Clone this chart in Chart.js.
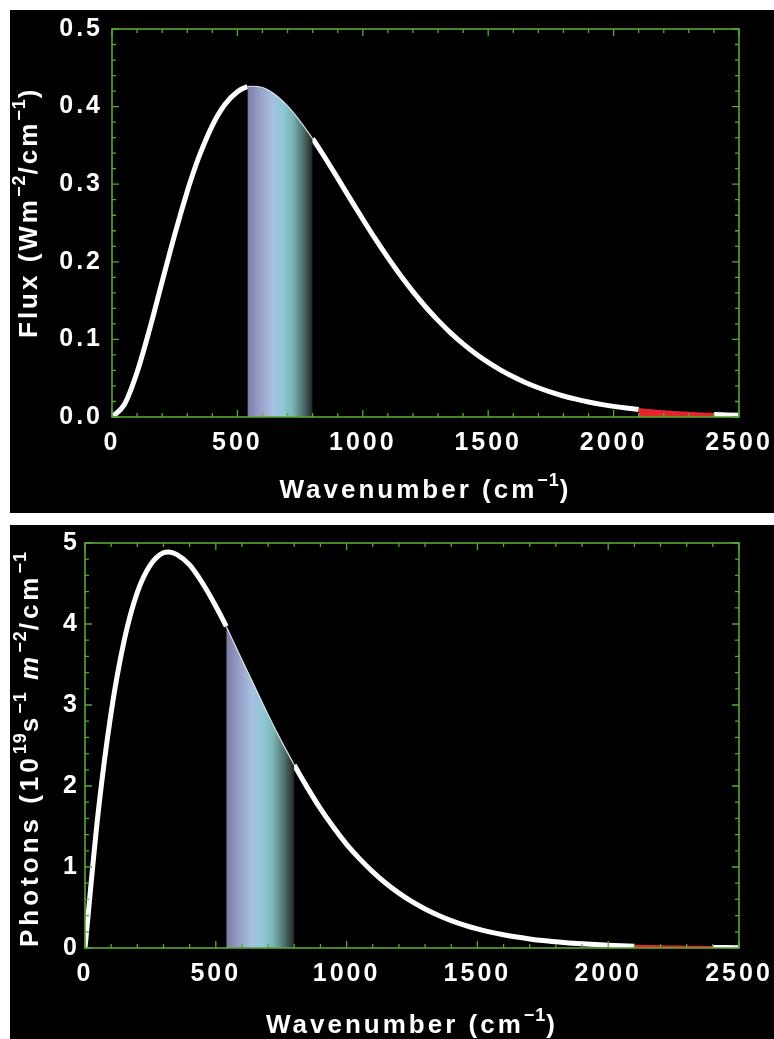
<!DOCTYPE html>
<html>
<head>
<meta charset="utf-8">
<script src="https://cdn.jsdelivr.net/npm/chart.js@4.4.0/dist/chart.umd.min.js"></script>
<style>
  html, body { margin: 0; padding: 0; background: #fff; }
  body { width: 774px; height: 1039px; position: relative; overflow: hidden; }
  canvas { position: absolute; display: block; background: #000; }
  #fluxChart { left: 10px; top: 10px; }
  #photonChart { left: 10px; top: 525px; }
</style>
</head>
<body>
<canvas id="fluxChart" width="764" height="503"></canvas>
<canvas id="photonChart" width="764" height="514"></canvas>
<script>
// Emission spectrum of a surface near 288 K, sampled in wavenumber (cm^-1)
const wavenumbers = [0, 50, 100, 150, 200, 250, 300, 320, 350, 400, 450, 500, 540, 550, 600, 650, 700, 750, 800,
  850, 900, 950, 1000, 1050, 1100, 1150, 1200, 1250, 1300, 1350, 1400, 1450, 1500, 1550, 1600, 1650, 1700,
  1750, 1800, 1850, 1900, 1950, 2000, 2050, 2100, 2150, 2200, 2250, 2300, 2350, 2400, 2450, 2500];

// Energy flux, W m^-2 / cm^-1
const fluxValues = [0, 0.0165, 0.0577, 0.1132, 0.1745, 0.2351, 0.2907, 0.3108, 0.3380, 0.3756, 0.4026, 0.4192, 0.4256,
  0.4262, 0.4246, 0.4157, 0.4009, 0.3814, 0.3587, 0.3338, 0.3076, 0.2811, 0.2549,
  0.2295, 0.2053, 0.1826, 0.1615, 0.1421, 0.1245, 0.1085, 0.0943, 0.0816, 0.0703,
  0.0604, 0.0518, 0.0442, 0.0377, 0.0320, 0.0271, 0.0230, 0.0194, 0.0163, 0.0137,
  0.0115, 0.0096, 0.0081, 0.0067, 0.0056, 0.0047, 0.0039, 0.0032, 0.0027, 0.0022];

// Photon flux, 10^19 s^-1 m^-2 / cm^-1
const photonValues = [0, 1.66, 2.91, 3.80, 4.39, 4.73, 4.88, 4.89, 4.86, 4.73, 4.50, 4.22, 3.97,
  3.90, 3.56, 3.22, 2.88, 2.56, 2.26, 1.98, 1.72, 1.49, 1.28,
  1.10, 0.940, 0.799, 0.677, 0.572, 0.482, 0.405, 0.339, 0.283, 0.236,
  0.196, 0.163, 0.135, 0.112, 0.092, 0.076, 0.062, 0.051, 0.042, 0.034,
  0.028, 0.023, 0.019, 0.015, 0.013, 0.010, 0.008, 0.007, 0.005, 0.004];

// Highlighted spectral bands (cm^-1)
const windowBand = [540, 800];
const redBand = [2100, 2400];

// Tick labels
const xTickValues = [0, 500, 1000, 1500, 2000, 2500];
const fluxTickValues = [0, 0.1, 0.2, 0.3, 0.4, 0.5];
const photonTickValues = [0, 1, 2, 3, 4, 5];

const FAMILY = "'Liberation Sans', Arial, Helvetica, sans-serif";
const GREEN = '#5aa63a';

const points = (vals) => wavenumbers.map((x, i) => ({ x, y: vals[i] }));
const within = (pts, band) => pts.filter(p => p.x >= band[0] && p.x <= band[1]);
const inBand = (a, b, band) => a >= band[0] && b <= band[1];

// Frame plus inward-pointing major/minor ticks on all four sides
const frameTicks = {
  id: 'frameTicks',
  afterDatasetsDraw(chart, args, o) {
    const { ctx, chartArea: a, scales: { x, y } } = chart;
    ctx.save();
    ctx.strokeStyle = GREEN;
    ctx.lineWidth = 1.3;
    ctx.beginPath();
    const nx = Math.round((x.max - x.min) / o.xMinor);
    for (let i = 0; i <= nx; i++) {
      const v = x.min + i * o.xMinor;
      const px = x.getPixelForValue(v);
      const len = (i % o.xPer === 0) ? 7 : 4;
      ctx.moveTo(px, a.bottom); ctx.lineTo(px, a.bottom - len);
      ctx.moveTo(px, a.top); ctx.lineTo(px, a.top + len);
    }
    const ny = Math.round((y.max - y.min) / o.yMinor);
    for (let i = 0; i <= ny; i++) {
      const v = y.min + i * o.yMinor;
      const py = y.getPixelForValue(v);
      const len = (i % o.yPer === 0) ? 7 : 4;
      ctx.moveTo(a.left, py); ctx.lineTo(a.left + len, py);
      ctx.moveTo(a.right, py); ctx.lineTo(a.right - len, py);
    }
    ctx.stroke();
    ctx.lineWidth = 1.6;
    ctx.strokeRect(a.left, a.top, a.right - a.left, a.bottom - a.top);
    ctx.restore();
  }
};

function runFont(r) {
  const size = r.sup ? 18 : 26;
  return (r.it ? 'italic ' : '') + 'bold ' + size + 'px ' + FAMILY;
}
function setRun(ctx, r, spacing) {
  ctx.font = runFont(r);
  ctx.letterSpacing = r.sup ? '1px' : spacing + 'px';
}
function measureRich(ctx, runs, spacing) {
  let w = 0;
  runs.forEach(r => { setRun(ctx, r, spacing); w += ctx.measureText(r.t).width; });
  return w;
}
function drawRich(ctx, runs, x, y, spacing) {
  let cx = x;
  runs.forEach(r => {
    setRun(ctx, r, spacing);
    ctx.fillText(r.t, cx, y - (r.sup ? 12 : 0));
    cx += ctx.measureText(r.t).width;
  });
}

// Axis titles with superscripts
const richTitles = {
  id: 'richTitles',
  beforeDraw(chart) {
    chart.ctx.letterSpacing = '3px';
  },
  afterDraw(chart, args, o) {
    const { ctx, chartArea: a } = chart;
    ctx.save();
    ctx.fillStyle = '#fff';
    ctx.textAlign = 'left';
    ctx.textBaseline = 'alphabetic';
    const wx = measureRich(ctx, o.xRuns, 3);
    drawRich(ctx, o.xRuns, (a.left + a.right) / 2 - wx / 2, a.bottom + o.xOffset, 3);
    ctx.translate(o.yBaseX, o.yStartY);
    ctx.rotate(-Math.PI / 2);
    drawRich(ctx, o.yRuns, 0, 0, o.ySpacing);
    ctx.restore();
  }
};

const bandGradient = (c) => {
  const chart = c.chart;
  if (!chart.chartArea) return 'rgba(150,180,210,0.8)';
  const xs = chart.scales.x;
  const g = chart.ctx.createLinearGradient(xs.getPixelForValue(windowBand[0]), 0, xs.getPixelForValue(windowBand[1]), 0);
  g.addColorStop(0.00, '#7b7ca4');
  g.addColorStop(0.18, '#979dc6');
  g.addColorStop(0.38, '#a6c0e2');
  g.addColorStop(0.55, '#8ec8d6');
  g.addColorStop(0.70, '#78b2b2');
  g.addColorStop(0.86, '#4d6e6c');
  g.addColorStop(1.00, '#1f2626');
  return g;
};

function makeChart(id, vals, cfg) {
  const canvas = document.getElementById(id);
  const W = canvas.width, H = canvas.height;
  const pts = points(vals);
  const tickFont = { family: FAMILY, size: 25, weight: 'bold' };
  return new Chart(canvas, {
    type: 'line',
    data: {
      datasets: [
        {
          label: 'red band',
          data: within(pts, redBand),
          borderColor: '#e3262b',
          backgroundColor: '#e3262b',
          borderWidth: 3,
          fill: 'origin',
          pointRadius: 0,
          cubicInterpolationMode: 'monotone'
        },
        {
          label: 'window',
          data: within(pts, windowBand),
          borderColor: 'rgba(235,240,245,0.9)',
          backgroundColor: bandGradient,
          borderWidth: 1.2,
          fill: 'origin',
          pointRadius: 0,
          cubicInterpolationMode: 'monotone'
        },
        {
          label: 'spectrum',
          data: pts,
          borderColor: '#ffffff',
          borderWidth: 5,
          borderCapStyle: 'butt',
          fill: false,
          pointRadius: 0,
          cubicInterpolationMode: 'monotone',
          segment: {
            borderColor: (s) => {
              const a = s.p0.parsed.x, b = s.p1.parsed.x;
              return (inBand(a, b, windowBand) || inBand(a, b, redBand)) ? 'rgba(0,0,0,0)' : undefined;
            }
          }
        }
      ]
    },
    options: {
      responsive: false,
      animation: false,
      devicePixelRatio: 1,
      events: [],
      layout: { padding: { top: cfg.top, right: W - cfg.right, left: 0, bottom: 0 } },
      plugins: {
        legend: { display: false },
        tooltip: { enabled: false },
        frameTicks: { xMinor: 100, xPer: 5, yMinor: cfg.yMinor, yPer: 5 },
        richTitles: {
          xRuns: [{ t: 'Wavenumber (cm' }, { t: '\u22121', sup: true }, { t: ')' }],
          xOffset: cfg.xTitleOffset,
          yRuns: cfg.yRuns,
          yBaseX: cfg.yBaseX,
          yStartY: cfg.yStartY,
          ySpacing: cfg.ySpacing
        }
      },
      scales: {
        x: {
          type: 'linear',
          min: 0, max: 2500,
          afterBuildTicks: (s) => { s.ticks = xTickValues.map(v => ({ value: v })); },
          ticks: {
            color: '#ffffff', font: tickFont, padding: 11,
            autoSkip: false, maxRotation: 0, minRotation: 0,
            callback: (v) => String(v)
          },
          grid: { display: false, drawTicks: false },
          border: { display: false },
          afterFit: (s) => { s.height = H - cfg.bottom; s.paddingLeft = 0; s.paddingRight = 0; }
        },
        y: {
          type: 'linear',
          min: 0, max: cfg.yMax,
          afterBuildTicks: (s) => { s.ticks = cfg.yTicks.map(v => ({ value: v })); },
          ticks: {
            color: '#ffffff', font: tickFont, padding: cfg.yPad,
            autoSkip: false,
            callback: cfg.yFormat
          },
          grid: { display: false, drawTicks: false },
          border: { display: false },
          afterFit: (s) => { s.width = cfg.left; s.paddingTop = 0; s.paddingBottom = 0; }
        }
      }
    },
    plugins: [frameTicks, richTitles]
  });
}

makeChart('fluxChart', fluxValues, {
  left: 102, right: 729, top: 19, bottom: 407,
  yMax: 0.5, yTicks: fluxTickValues, yMinor: 0.02, yPad: 9,
  yFormat: (v) => v.toFixed(1),
  xTitleOffset: 81,
  yBaseX: 27, yStartY: 328, ySpacing: 3,
  yRuns: [{ t: 'Flux (Wm' }, { t: '\u22122', sup: true }, { t: '/cm' }, { t: '\u22121', sup: true }, { t: ')' }]
});

makeChart('photonChart', photonValues, {
  left: 75, right: 729, top: 18, bottom: 423,
  yMax: 5, yTicks: photonTickValues, yMinor: 0.2, yPad: 5,
  yFormat: (v) => String(v),
  xTitleOffset: 85,
  yBaseX: 28, yStartY: 422, ySpacing: 4,
  yRuns: [{ t: 'Photons (10' }, { t: '19', sup: true }, { t: 's' }, { t: '\u22121', sup: true }, { t: ' ' },
          { t: 'm', it: true }, { t: '\u22122', sup: true }, { t: '/cm' }, { t: '\u22121', sup: true }]
});
</script>
</body>
</html>
